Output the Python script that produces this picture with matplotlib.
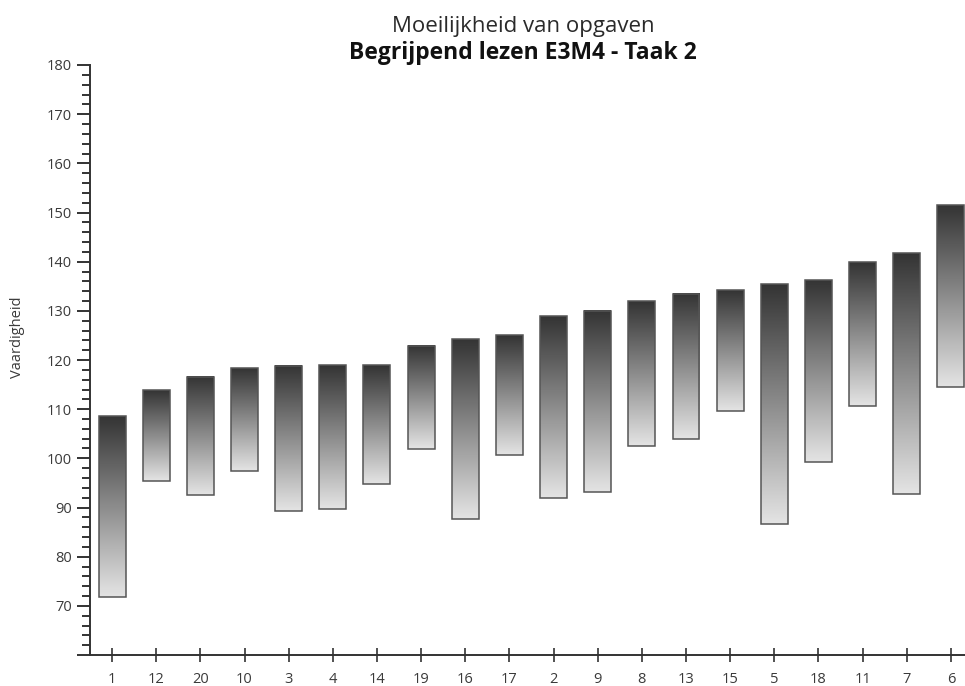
import numpy as np
import matplotlib.pyplot as plt
from matplotlib.colors import LinearSegmentedColormap
from matplotlib.ticker import MultipleLocator

# opgaven, gesorteerd op moeilijkheid
opgaven = ['1', '12', '20', '10', '3', '4', '14', '19', '16', '17',
           '2', '9', '8', '13', '15', '5', '18', '11', '7', '6']
boven = [108.6, 113.8, 116.6, 118.4, 118.8, 118.9, 118.9, 122.9, 124.3, 125.1,
         128.9, 130.0, 131.9, 133.4, 134.3, 135.4, 136.2, 139.9, 141.7, 151.5]
onder = [71.8, 95.4, 92.5, 97.5, 89.3, 89.7, 94.7, 101.8, 87.7, 100.7,
         92.0, 93.1, 102.6, 103.9, 109.7, 86.6, 99.3, 110.7, 92.8, 114.6]

plt.rcParams['font.family'] = ['Open Sans', 'DejaVu Sans']

fig = plt.figure(figsize=(9.65, 6.86), dpi=100)
ax = fig.add_axes([90 / 965, 1 - 655 / 686, 1 - 90 / 965, (655 - 65) / 686])

x = np.arange(len(opgaven))
hoogte = np.array(boven) - np.array(onder)
bars = ax.bar(x, hoogte, bottom=onder, width=0.61, facecolor='none',
              edgecolor='#555555', linewidth=1.1, zorder=3)

# verloop van licht (onder) naar donker (boven) in elke balk
cmap = LinearSegmentedColormap.from_list('verloop', ['#e4e4e4', '#343434'])
grad = np.linspace(0, 1, 256).reshape(-1, 1)
for b in bars:
    x0, y0 = b.get_x(), b.get_y()
    ax.imshow(grad, cmap=cmap, origin='lower', aspect='auto', zorder=2,
              extent=[x0, x0 + b.get_width(), y0, y0 + b.get_height()])

ax.set_xlim(-0.5, 19.32)
ax.set_ylim(60, 180)

ax.set_xticks(x)
ax.set_xticklabels(opgaven)
ax.yaxis.set_major_locator(MultipleLocator(10))
ax.yaxis.set_minor_locator(MultipleLocator(2))
ax.yaxis.set_major_formatter(lambda v, pos: '' if v < 70 else f'{v:.0f}')

for s in ['top', 'right']:
    ax.spines[s].set_visible(False)
for s in ['left', 'bottom']:
    ax.spines[s].set_color('#333333')
    ax.spines[s].set_linewidth(1.4)

ax.tick_params(axis='y', which='major', direction='out', length=9.5, width=1.4,
               color='#333333', labelsize=10.5, labelcolor='#3a3a3a', pad=3.5)
ax.tick_params(axis='y', which='minor', direction='out', length=5.5, width=1.4,
               color='#333333')
ax.tick_params(axis='x', which='major', direction='inout', length=10, width=1.2,
               color='#333333', labelsize=10.5, labelcolor='#3a3a3a', pad=7)

ax.set_ylabel('Vaardigheid', fontsize=10.5, color='#3a3a3a')
ax.yaxis.set_label_coords(-0.074, 0.538)

fig.text(0.542, 1 - 32 / 686, 'Moeilijkheid van opgaven', ha='center',
         va='baseline', fontsize=16, color='#2a2a2a')
fig.text(0.542, 1 - 59 / 686, 'Begrijpend lezen E3M4 - Taak 2', ha='center',
         va='baseline', fontsize=16.5, fontweight='bold', color='#111111')

fig.savefig('out.png', dpi=100)
